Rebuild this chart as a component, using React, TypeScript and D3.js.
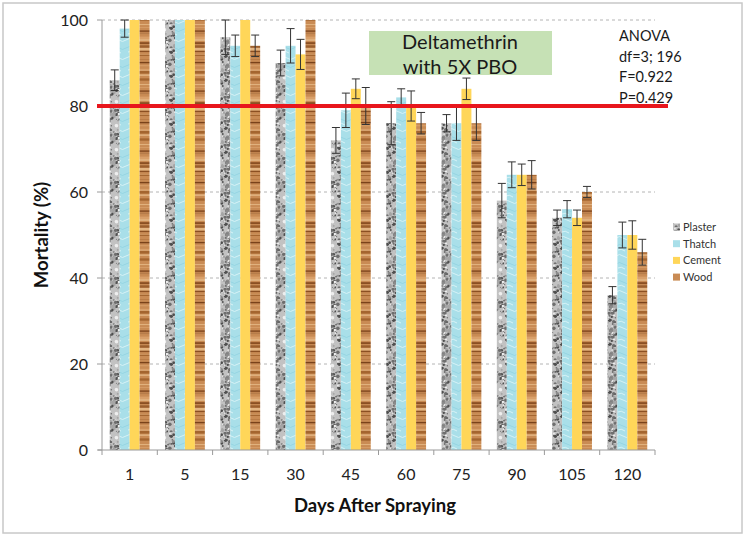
import React from "react";
import * as d3 from "d3";

const categories = ["1", "5", "15", "30", "45", "60", "75", "90", "105", "120"];
const seriesNames = ["Plaster", "Thatch", "Cement", "Wood"];
const plaster = [86, 100, 96, 90, 72, 76, 76, 58, 54, 36];
const plasterErr = [2.4, 0, 4, 3, 3, 5, 2, 4, 1.8, 2];
const thatch = [98, 100, 94, 94, 79, 82, 76, 64, 56, 50];
const thatchErr = [2, 0, 2.5, 4, 4, 2, 4, 3, 2, 3];
const cement = [100, 100, 100, 92, 84, 80, 84, 64, 54, 50];
const cementErr = [0, 0, 0, 3.5, 2.3, 3.5, 2.5, 2.5, 1.8, 3.3];
const wood = [100, 100, 94, 100, 80, 76, 76, 64, 60, 46];
const woodErr = [0, 0, 2.5, 0, 4.3, 2.5, 4, 3.3, 1.3, 3];
const yTicks = [0, 20, 40, 60, 80, 100];
const threshold = 80;
const anovaLines = ["ANOVA", "df=3; 196", "F=0.922", "P=0.429"];
const titleLines = ["Deltamethrin", "with 5X PBO"];

const seriesValues = [plaster, thatch, cement, wood];
const seriesErrs = [plasterErr, thatchErr, cementErr, woodErr];
const fills = ["url(#granite)", "url(#thatchTex)", "#ffd659", "url(#woodTex)"];
const legendFills = ["url(#granite)", "#a9dfe9", "#ffd659", "#c98b54"];

const W = 746;
const H = 537;
const left = 102;
const right = 655;
const top = 20;
const bottom = 450;
const FONT = "Lato, 'Open Sans', sans-serif";

// deterministic hash for texture decoration only
const hash = (i: number) => {
  const s = Math.sin(i * 12.9898 + 78.233) * 43758.5453;
  return s - Math.floor(s);
};

export default function App() {
  const x = d3.scaleBand<string>().domain(categories).range([left, right]).paddingInner(0.28).paddingOuter(0.14);
  const xInner = d3.scaleBand<string>().domain(seriesNames).range([0, x.bandwidth()]);
  const y = d3.scaleLinear().domain([0, 100]).range([bottom, top]);
  const step = (right - left) / categories.length;

  const graniteSpots = d3.range(90).map((i) => ({
    cx: hash(i) * 24,
    cy: hash(i + 500) * 24,
    r: 0.5 + hash(i + 1000) * 1.4,
    c: ["#6e6e6e", "#8a8a8a", "#4f4f4f", "#eeeeee", "#a5a5a5"][Math.floor(hash(i + 2000) * 5)],
  }));
  const woodLines = d3.range(26).map((i) => ({
    y: hash(i + 3000) * 60,
    h: 0.6 + hash(i + 3500) * 2.2,
    c: ["#8b4f22", "#a4652f", "#e3b582", "#7a421a", "#d9a06a"][Math.floor(hash(i + 4000) * 5)],
  }));

  return (
    <svg width={W} height={H} style={{ position: "absolute", left: 0, top: 0, background: "#fff" }}>
      <defs>
        <pattern id="granite" patternUnits="userSpaceOnUse" width={24} height={24}>
          <rect width={24} height={24} fill="#c2c2c2" />
          {graniteSpots.map((s, i) => (
            <circle key={i} cx={s.cx} cy={s.cy} r={s.r} fill={s.c} />
          ))}
        </pattern>
        <pattern id="thatchTex" patternUnits="userSpaceOnUse" width={14} height={18}>
          <rect width={14} height={18} fill="#a9dfe9" />
          <path d="M0,4 Q3.5,1 7,4 T14,4" stroke="#d6f2f6" strokeWidth={1} fill="none" />
          <path d="M0,12 Q3.5,9 7,12 T14,12" stroke="#8fd2df" strokeWidth={0.8} fill="none" />
          <path d="M2,16 Q5,14 9,17" stroke="#e2f6f9" strokeWidth={0.8} fill="none" />
        </pattern>
        <pattern id="woodTex" patternUnits="userSpaceOnUse" width={12} height={60}>
          <rect width={12} height={60} fill="#c98b54" />
          {woodLines.map((l, i) => (
            <rect key={i} x={0} y={l.y} width={12} height={l.h} fill={l.c} />
          ))}
        </pattern>
      </defs>

      <rect x={3} y={3} width={739} height={530} fill="#fff" stroke="#c8c8c8" strokeWidth={1.5} />

      {/* gridlines */}
      {yTicks.filter((t) => t > 0).map((t) => (
        <line key={t} x1={left} x2={right} y1={y(t)} y2={y(t)} stroke="#b4b4b4" strokeWidth={1} strokeDasharray="3,3" />
      ))}

      {/* bars */}
      {categories.map((c, ci) =>
        seriesNames.map((s, si) => {
          const v = seriesValues[si][ci];
          const bx = (x(c) as number) + (xInner(s) as number);
          return (
            <rect key={c + s} x={bx} y={y(v)} width={xInner.bandwidth()} height={bottom - y(v)} fill={fills[si]} />
          );
        })
      )}

      {/* error bars */}
      {categories.map((c, ci) =>
        seriesNames.map((s, si) => {
          const v = seriesValues[si][ci];
          const e = seriesErrs[si][ci];
          if (!e) return null;
          const cx = (x(c) as number) + (xInner(s) as number) + xInner.bandwidth() / 2;
          return (
            <g key={"e" + c + s} stroke="#333" strokeWidth={1}>
              <line x1={cx} x2={cx} y1={y(v + e)} y2={y(v - e)} />
              <line x1={cx - 4} x2={cx + 4} y1={y(v + e)} y2={y(v + e)} />
              <line x1={cx - 4} x2={cx + 4} y1={y(v - e)} y2={y(v - e)} />
            </g>
          );
        })
      )}

      {/* axes */}
      <line x1={left} x2={left} y1={top} y2={bottom} stroke="#9a9a9a" strokeWidth={1} />
      <line x1={left - 4} x2={right} y1={bottom} y2={bottom} stroke="#9a9a9a" strokeWidth={1} />
      {yTicks.map((t) => (
        <g key={"yt" + t}>
          <line x1={left - 5} x2={left} y1={y(t)} y2={y(t)} stroke="#9a9a9a" />
          <text x={left - 14} y={y(t)} dy="0.35em" textAnchor="end" fontFamily={FONT} fontSize={16} fill="#222">
            {t}
          </text>
        </g>
      ))}
      {d3.range(categories.length + 1).map((i) => (
        <line key={"xt" + i} x1={left + i * step} x2={left + i * step} y1={bottom} y2={bottom + 5} stroke="#9a9a9a" />
      ))}
      {categories.map((c) => (
        <text key={"xl" + c} x={(x(c) as number) + x.bandwidth() / 2} y={474} dy="0.35em" textAnchor="middle" fontFamily={FONT} fontSize={16} fill="#222">
          {c}
        </text>
      ))}

      <text x={375} y={506} dy="0.35em" textAnchor="middle" fontFamily={FONT} fontSize={18.5} fontWeight="bold" fill="#111">
        Days After Spraying
      </text>
      <text transform={`translate(42,${(top + bottom) / 2}) rotate(-90)`} dy="0.35em" textAnchor="middle" fontFamily={FONT} fontSize={18.5} fontWeight="bold" fill="#111">
        Mortality (%)
      </text>

      {/* threshold */}
      <line x1={97} x2={668} y1={y(threshold)} y2={y(threshold)} stroke="#e8161c" strokeWidth={4} />

      {/* title box */}
      <rect x={369} y={31} width={183} height={44} fill="#c6e1b5" />
      {titleLines.map((l, i) => (
        <text key={l} x={460} y={42 + i * 25} dy="0.35em" textAnchor="middle" fontFamily={FONT} fontSize={20} fill="#1a1a1a">
          {l}
        </text>
      ))}

      {/* anova */}
      {anovaLines.map((l, i) => (
        <text key={l} x={619} y={36 + i * 20.5} dy="0.35em" fontFamily={FONT} fontSize={14.5} fill="#1a1a1a">
          {l}
        </text>
      ))}

      {/* legend */}
      {seriesNames.map((s, i) => (
        <g key={"lg" + s} transform={`translate(673,${227 + i * 16.7})`}>
          <rect x={0} y={-3.5} width={7} height={7} fill={legendFills[i]} />
          <text x={10} y={0} dy="0.35em" fontFamily={FONT} fontSize={11} fill="#333">
            {s}
          </text>
        </g>
      ))}
    </svg>
  );
}
